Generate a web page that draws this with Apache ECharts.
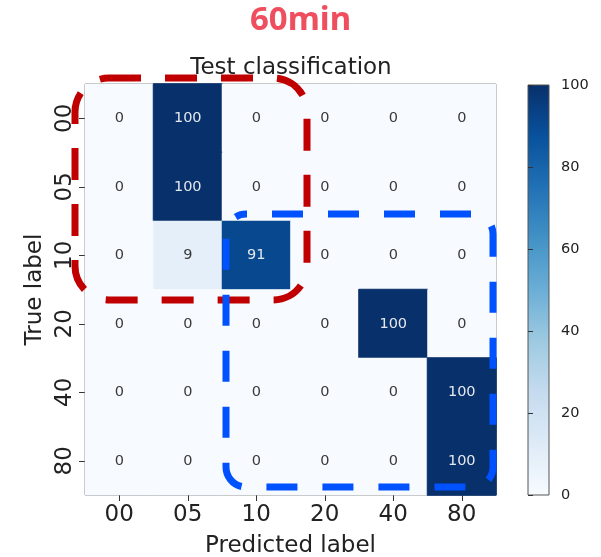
<!DOCTYPE html>
<html>
<head>
<meta charset="utf-8">
<script src="https://cdn.jsdelivr.net/npm/echarts@6/dist/echarts.min.js"></script>
<style>
html,body{margin:0;padding:0;background:#fff;}
#chart{width:601px;height:557px;}
</style>
</head>
<body>
<div id="chart"></div>
<script>
// ---- data ----
const predictedLabels = ['00', '05', '10', '20', '40', '80'];
const trueLabels = ['00', '05', '10', '20', '40', '80'];
const row00 = [0, 100, 0, 0, 0, 0];
const row05 = [0, 100, 0, 0, 0, 0];
const row10 = [0, 9, 91, 0, 0, 0];
const row20 = [0, 0, 0, 0, 100, 0];
const row40 = [0, 0, 0, 0, 0, 100];
const row80 = [0, 0, 0, 0, 0, 100];
const colorbarMin = 0, colorbarMax = 100, colorbarStep = 20;
const topLabel = '60min';
const chartTitle = 'Test classification';

// ---- style ----
const BLUES = ['#f7fbff', '#deebf7', '#c6dbef', '#9ecae1', '#6baed6', '#4292c6', '#2171b5', '#08519c', '#08306b'];
const FONT = 'DejaVu Sans';

const rows = [row00, row05, row10, row20, row40, row80];
const heatData = [];
rows.forEach((r, i) => r.forEach((v, j) => {
  const item = { value: [j, i, v], label: { color: v > 50 ? '#e4e8ee' : '#3a3a3a' } };
  if (v >= colorbarMax) item.itemStyle = { borderColor: BLUES[BLUES.length - 1], borderWidth: 1 };
  heatData.push(item);
}));

const chart = echarts.init(document.getElementById('chart'), null, { renderer: 'canvas' });
const gradStops = BLUES.map((c, k) => ({ offset: 1 - k / (BLUES.length - 1), color: c }));

chart.setOption({
  backgroundColor: '#ffffff',
  animation: false,
  textStyle: { fontFamily: FONT },
  title: [
    { text: topLabel, left: 'center', top: 4, padding: 0,
      textStyle: { fontFamily: 'Noto Sans', fontWeight: 'bold', fontSize: 33, color: '#EF4E5E' } },
    { text: chartTitle, left: 291, textAlign: 'center', top: 57, padding: 0,
      textStyle: { fontFamily: FONT, fontWeight: 'normal', fontSize: 23, color: '#222' } }
  ],
  grid: [
    { left: 85, top: 84, width: 411, height: 411, show: true, borderColor: '#777', borderWidth: 1,
      backgroundColor: 'transparent', containLabel: false, outerBoundsMode: 'none' },
    { left: 528, top: 85, width: 21, height: 410, show: true, borderColor: '#555', borderWidth: 1,
      containLabel: false, outerBoundsMode: 'none',
      backgroundColor: new echarts.graphic.LinearGradient(0, 0, 0, 1, gradStops) }
  ],
  xAxis: [
    { type: 'category', gridIndex: 0, data: predictedLabels, position: 'bottom',
      axisLine: { show: false },
      axisTick: { show: true, alignWithLabel: true, length: 6, lineStyle: { color: '#333' } },
      axisLabel: { fontSize: 23, color: '#222', margin: 9, fontFamily: FONT },
      splitLine: { show: false },
      name: 'Predicted label', nameLocation: 'middle', nameGap: 40,
      nameTextStyle: { fontSize: 23, color: '#222', fontFamily: FONT } },
    { type: 'value', gridIndex: 1, show: false, min: 0, max: 1 }
  ],
  yAxis: [
    { type: 'category', gridIndex: 0, data: trueLabels, inverse: true,
      axisLine: { show: false },
      axisTick: { show: true, alignWithLabel: true, length: 6, lineStyle: { color: '#333' } },
      axisLabel: { fontSize: 23, color: '#222', rotate: 90, margin: 8, fontFamily: FONT },
      splitLine: { show: false },
      name: 'True label', nameLocation: 'middle', nameGap: 38,
      nameTextStyle: { fontSize: 23, color: '#222', fontFamily: FONT } },
    { type: 'value', gridIndex: 1, position: 'right', min: colorbarMin, max: colorbarMax, interval: colorbarStep,
      axisLine: { show: false },
      axisTick: { show: true, length: 5, lineStyle: { color: '#333' } },
      axisLabel: { fontSize: 14.5, color: '#222', margin: 12, fontFamily: FONT },
      splitLine: { show: false } }
  ],
  visualMap: {
    show: false, type: 'continuous', min: colorbarMin, max: colorbarMax, dimension: 2, seriesIndex: 0,
    inRange: { color: BLUES }
  },
  series: [{
    type: 'heatmap', xAxisIndex: 0, yAxisIndex: 0, data: heatData,
    label: { show: true, fontSize: 14.5, fontFamily: FONT },
    emphasis: { disabled: true }
  }],
  graphic: [
    { type: 'rect', z: 100, silent: true,
      shape: { x: 75, y: 78, width: 232, height: 222, r: 34 },
      style: { fill: 'none', stroke: '#C00000', lineWidth: 7, lineDash: [32, 24] } },
    { type: 'rect', z: 101, silent: true,
      shape: { x: 226, y: 214, width: 267, height: 273, r: 20 },
      style: { fill: 'none', stroke: '#0052FF', lineWidth: 7, lineDash: [31, 25], lineDashOffset: 30 } }
  ]
});
</script>
</body>
</html>
